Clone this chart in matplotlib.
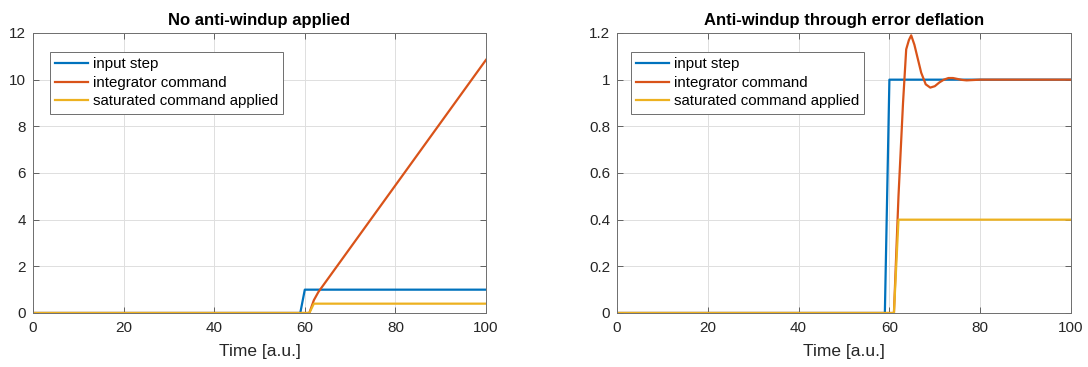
import matplotlib
matplotlib.use('Agg')
from matplotlib import pyplot as plt

plt.rcParams['font.family'] = ['Liberation Sans', 'DejaVu Sans']

# time samples and signals
t_step = [0, 59, 60, 100]
step = [0, 0, 1, 1]

# left panel: no anti-windup
t_int_left = [0, 61, 62, 63, 100]
int_left = [0, 0, 0.55, 0.9, 10.85]
t_sat_left = [0, 61, 62, 100]
sat_left = [0, 0, 0.4, 0.4]

# right panel: error deflation
t_int_right = [0, 61, 62, 63, 63.7, 64.3, 64.8, 65.5, 66, 67, 68, 69, 70, 71,
               72, 73, 74, 75, 76, 77, 78, 80, 100]
int_right = [0, 0, 0.5, 0.9, 1.13, 1.17, 1.19, 1.15, 1.11, 1.03, 0.98, 0.966,
             0.972, 0.988, 1.0, 1.007, 1.007, 1.003, 0.999, 0.997, 0.998, 1.0, 1.0]
t_sat_right = [0, 61, 62, 100]
sat_right = [0, 0, 0.4, 0.4]

labels = ['input step', 'integrator command', 'saturated command applied']
colors = ['#0072BD', '#D95319', '#EDB120']

xticks = [0, 20, 40, 60, 80, 100]
yticks_left = [0, 2, 4, 6, 8, 10, 12]
yticks_right = [0, 0.2, 0.4, 0.6, 0.8, 1.0, 1.2]
yticklabels_right = ['0', '0.2', '0.4', '0.6', '0.8', '1', '1.2']

fig = plt.figure(figsize=(10.88, 3.67), dpi=100)
ax1 = fig.add_axes([33 / 1088, 1 - 313 / 367, 453 / 1088, 280 / 367])
ax2 = fig.add_axes([617 / 1088, 1 - 313 / 367, 454 / 1088, 280 / 367])


def style(ax, title, yticks, ylabels=None):
    ax.set_xlim(0, 100)
    ax.set_ylim(yticks[0], yticks[-1])
    ax.set_xticks(xticks)
    ax.set_yticks(yticks)
    if ylabels is not None:
        ax.set_yticklabels(ylabels)
    ax.grid(True, color='#dedede', linewidth=0.7)
    ax.set_axisbelow(True)
    ax.tick_params(direction='in', length=4, width=0.6, colors='#4d4d4d',
                   labelcolor='#262626', labelsize=11, top=True, right=True)
    ax.tick_params(axis='x', pad=6)
    ax.tick_params(axis='y', pad=5)
    for s in ax.spines.values():
        s.set_color('#6e6e6e')
        s.set_linewidth(0.7)
    ax.set_title(title, fontsize=12, fontweight='bold', pad=6, color='#000000')
    ax.set_xlabel('Time [a.u.]', fontsize=12.5, color='#262626', labelpad=6)


for ax, ti, yi, ts, ys in [(ax1, t_int_left, int_left, t_sat_left, sat_left),
                           (ax2, t_int_right, int_right, t_sat_right, sat_right)]:
    ax.plot(t_step, step, color=colors[0], lw=1.6, label=labels[0])
    ax.plot(ti, yi, color=colors[1], lw=1.6, label=labels[1])
    ax.plot(ts, ys, color=colors[2], lw=1.6, label=labels[2])

style(ax1, 'No anti-windup applied', yticks_left)
style(ax2, 'Anti-windup through error deflation', yticks_right, yticklabels_right)

for ax, x0 in [(ax1, (50 - 33) / 453), (ax2, (631 - 617) / 454)]:
    leg = ax.legend(loc='upper left', bbox_to_anchor=(x0, 0.932), borderaxespad=0,
                    fontsize=10.8, fancybox=False, framealpha=1, handlelength=2.2,
                    handletextpad=0.3, labelspacing=0.3, borderpad=0.35)
    leg.get_frame().set_edgecolor('#6e6e6e')
    leg.get_frame().set_linewidth(0.7)

fig.savefig('out.png', dpi=100)
